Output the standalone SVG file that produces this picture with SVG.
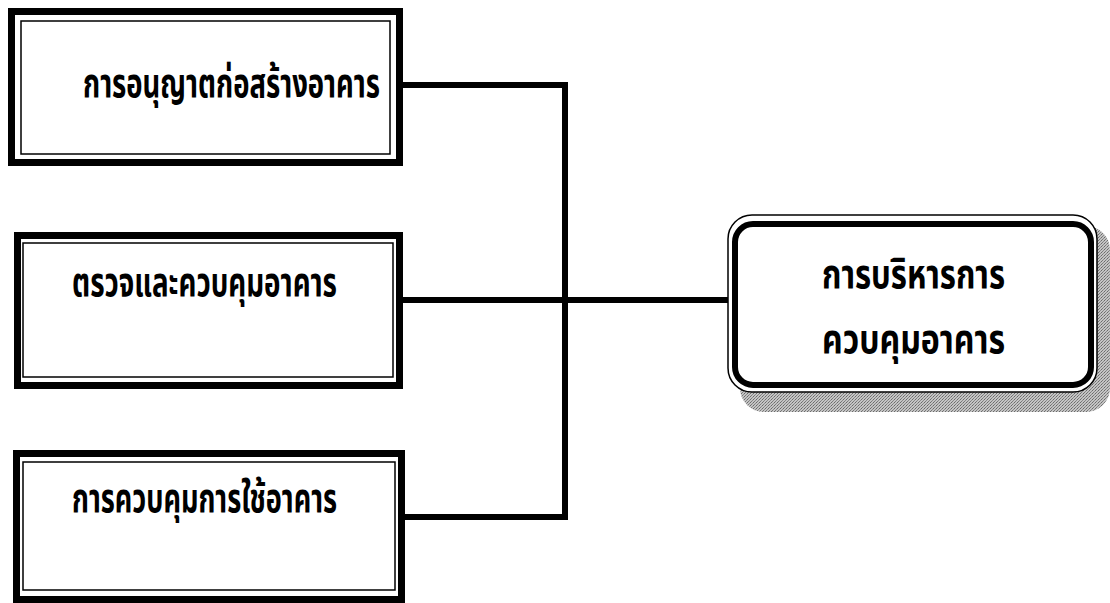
<svg xmlns="http://www.w3.org/2000/svg" width="1110" height="603" viewBox="0 0 1110 603">
  <defs>
    <style>
      .thick { fill: none; stroke: #000; stroke-width: 7; }
      .thin { fill: none; stroke: #000; stroke-width: 1.5; }
      .conn { fill: none; stroke: #000; stroke-width: 6; stroke-linecap: square; }
      .lbl { font-family: "Noto Sans Thai", "Noto Sans", "DejaVu Sans", sans-serif; font-weight: bold; font-size: 41px; fill: #000; }
    </style>
    <pattern id="stipple" width="3" height="3" patternUnits="userSpaceOnUse">
      <rect width="3" height="3" fill="#c4c4c4"/>
      <rect width="1" height="1" fill="#6a6a6a"/>
      <rect x="2" y="1" width="1" height="1" fill="#8a8a8a"/>
      <rect x="1" y="2" width="1" height="1" fill="#7a7a7a"/>
    </pattern>
  </defs>
  <rect width="1110" height="603" fill="#fff"/>

  <g id="connectors">
    <polyline class="conn" points="403,85 565,85 565,517 405,517"/>
    <line class="conn" x1="403" y1="300" x2="732" y2="300"/>
  </g>

  <g id="node-permit">
    <rect class="thick" x="11.5" y="11.5" width="388" height="151"/>
    <rect class="thin" x="21" y="21" width="369" height="133"/>
    <text class="lbl" x="83" y="97" textLength="297" lengthAdjust="spacingAndGlyphs">การอนุญาตก่อสร้างอาคาร</text>
  </g>

  <g id="node-inspect">
    <rect class="thick" x="17.5" y="235.5" width="382" height="150"/>
    <rect class="thin" x="23" y="243" width="370" height="134"/>
    <text class="lbl" x="72" y="296" textLength="265" lengthAdjust="spacingAndGlyphs">ตรวจและควบคุมอาคาร</text>
  </g>

  <g id="node-use">
    <rect class="thick" x="16.5" y="453.5" width="385" height="146"/>
    <rect class="thin" x="23" y="462" width="372" height="128"/>
    <text class="lbl" x="72" y="512" textLength="265" lengthAdjust="spacingAndGlyphs">การควบคุมการใช้อาคาร</text>
  </g>

  <g id="node-admin">
    <rect x="740" y="226" width="370" height="186" rx="24" fill="url(#stipple)"/>
    <rect x="728" y="215" width="369" height="177" rx="24" fill="#fff" stroke="#000" stroke-width="1.5"/>
    <rect x="735" y="224" width="356" height="161" rx="18" fill="none" stroke="#000" stroke-width="6"/>
    <text class="lbl" x="822" y="288" textLength="183" lengthAdjust="spacingAndGlyphs">การบริหารการ</text>
    <text class="lbl" x="822" y="353" textLength="183" lengthAdjust="spacingAndGlyphs">ควบคุมอาคาร</text>
  </g>
</svg>
